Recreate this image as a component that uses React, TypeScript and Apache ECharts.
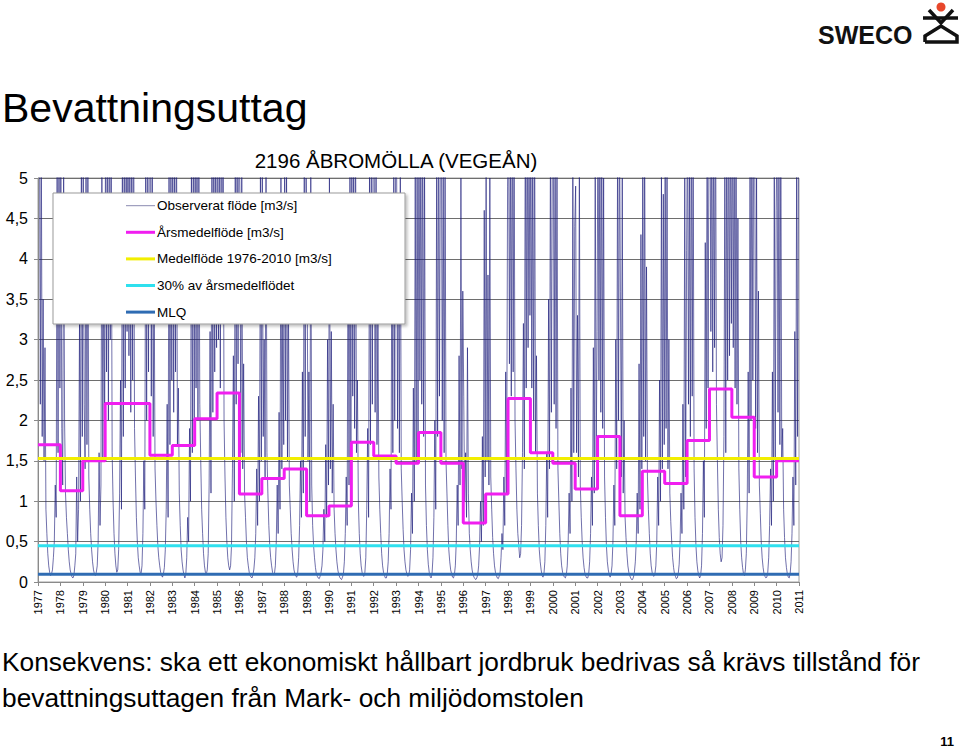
import React, { useEffect, useRef } from "react";
import * as echarts from "echarts";

const FONT = "'Liberation Sans', Arial, sans-serif";

const startYear = 1977;
const endYear = 2011;
const yTicks = [0, 0.5, 1, 1.5, 2, 2.5, 3, 3.5, 4, 4.5, 5];

// Årsmedelflöde [m3/s], 1977..2010
const annualMean = [
  1.7, 1.13, 1.5, 2.21, 2.21, 1.57, 1.69, 2.02, 2.34, 1.09, 1.28, 1.4, 0.82, 0.94,
  1.73, 1.56, 1.47, 1.85, 1.47, 0.73, 1.09, 2.27, 1.6, 1.47, 1.15, 1.8, 0.82, 1.37,
  1.22, 1.75, 2.39, 2.04, 1.3, 1.5,
];
const meanFlow = 1.53; // Medelflöde 1976-2010
const pct30 = 0.45; // 30% av årsmedelflödet
const mlq = 0.095; // MLQ

// Observerat flöde, half-monthly readings, one row per year
const obs1977to1985 = [
  [7.5, 6.0, 2.2, 5.8, 1.8, 3.5, 1.5, 2.9, 0.9, 0.6, 0.35, 0.2, 0.12, 0.08, 0.1, 0.15, 0.3, 0.5, 1.2, 0.8, 5.6, 1.6, 6.2, 2.4],
  [5.4, 1.9, 1.2, 5.2, 2.0, 1.1, 0.8, 0.6, 0.4, 0.25, 0.15, 0.1, 0.06, 0.05, 0.08, 0.2, 0.35, 1.3, 0.5, 0.9, 3.2, 1.0, 5.5, 1.8],
  [5.6, 2.2, 1.4, 5.3, 1.7, 5.1, 1.3, 0.9, 0.6, 0.4, 0.25, 0.15, 0.1, 0.08, 0.12, 0.2, 0.5, 1.6, 0.7, 1.2, 5.4, 1.5, 4.0, 1.9],
  [6.0, 2.6, 5.8, 2.0, 6.3, 3.0, 5.5, 1.6, 1.0, 0.6, 0.35, 0.2, 0.12, 0.15, 0.4, 1.1, 2.5, 0.9, 5.7, 1.8, 6.1, 2.4, 5.9, 3.1],
  [6.2, 2.8, 5.6, 2.1, 5.9, 2.5, 6.4, 1.9, 1.3, 0.8, 0.5, 0.3, 0.2, 0.12, 0.1, 0.2, 0.6, 1.5, 0.9, 5.4, 2.0, 6.0, 2.6, 5.8],
  [5.8, 2.3, 6.1, 1.8, 3.9, 1.4, 1.0, 0.7, 0.45, 0.3, 0.2, 0.12, 0.08, 0.06, 0.1, 0.18, 0.4, 0.9, 2.2, 0.8, 5.5, 1.7, 5.2, 2.5],
  [6.0, 2.1, 5.5, 2.6, 5.9, 1.7, 2.4, 1.1, 0.7, 0.4, 0.25, 0.15, 0.09, 0.05, 0.1, 0.3, 0.8, 0.5, 1.9, 1.0, 5.3, 1.6, 6.0, 2.0],
  [5.9, 2.4, 6.2, 2.0, 5.4, 2.2, 1.5, 0.9, 0.6, 0.35, 0.2, 0.12, 0.1, 0.15, 0.35, 1.2, 3.1, 1.1, 5.8, 2.1, 6.3, 2.6, 5.6, 2.9],
  [6.1, 3.0, 5.7, 2.4, 6.5, 3.2, 5.9, 2.0, 1.3, 0.8, 0.5, 0.3, 0.2, 0.15, 0.2, 0.45, 1.4, 2.8, 1.0, 5.6, 2.2, 6.0, 2.7, 5.8],
];
const obs1986to1994 = [
  [4.8, 1.6, 5.3, 1.4, 2.7, 1.1, 0.8, 0.5, 0.3, 0.2, 0.12, 0.08, 0.06, 0.05, 0.09, 0.16, 0.3, 0.6, 1.4, 0.7, 2.3, 1.0, 5.1, 1.5],
  [5.2, 1.8, 3.0, 1.3, 5.5, 1.6, 1.1, 0.7, 0.45, 0.3, 0.2, 0.12, 0.09, 0.1, 0.2, 0.5, 1.2, 0.6, 2.1, 0.9, 5.0, 1.4, 3.4, 1.7],
  [5.6, 2.0, 5.2, 1.5, 3.6, 1.2, 0.9, 0.6, 0.4, 0.25, 0.15, 0.1, 0.07, 0.06, 0.12, 0.3, 0.7, 1.5, 0.8, 2.6, 1.1, 5.4, 1.8, 5.0],
  [4.2, 1.5, 2.6, 1.0, 5.1, 1.2, 0.7, 0.45, 0.3, 0.18, 0.1, 0.07, 0.05, 0.04, 0.07, 0.12, 0.2, 0.4, 0.9, 0.5, 1.7, 0.8, 3.0, 1.2],
  [5.0, 1.4, 3.1, 1.1, 2.2, 0.9, 0.6, 0.4, 0.25, 0.15, 0.09, 0.06, 0.04, 0.03, 0.06, 0.1, 0.25, 0.6, 1.3, 0.7, 4.8, 1.2, 5.2, 1.5],
  [6.0, 2.3, 5.4, 1.9, 5.8, 1.6, 2.5, 1.0, 0.6, 0.35, 0.2, 0.12, 0.08, 0.07, 0.12, 0.3, 0.9, 1.9, 0.8, 5.2, 1.7, 6.1, 2.2, 5.7],
  [5.5, 2.1, 5.9, 1.7, 3.3, 1.3, 0.9, 0.6, 0.35, 0.2, 0.12, 0.08, 0.05, 0.05, 0.1, 0.25, 0.6, 1.4, 0.9, 4.6, 1.6, 5.8, 2.0, 5.3],
  [5.4, 1.9, 4.7, 1.6, 5.6, 1.4, 1.0, 0.65, 0.4, 0.25, 0.15, 0.1, 0.07, 0.08, 0.15, 0.4, 1.1, 0.6, 2.4, 1.0, 5.1, 1.5, 5.5, 1.8],
  [6.3, 2.5, 5.7, 2.2, 6.0, 1.8, 5.2, 1.2, 0.7, 0.4, 0.22, 0.12, 0.07, 0.05, 0.1, 0.3, 0.8, 2.0, 0.9, 5.3, 1.8, 5.9, 2.3, 5.6],
];
const obs1995to2002 = [
  [5.7, 2.0, 5.1, 1.6, 5.4, 1.5, 1.1, 0.7, 0.4, 0.25, 0.15, 0.1, 0.06, 0.05, 0.09, 0.2, 0.5, 1.2, 0.7, 2.8, 1.2, 5.0, 1.4, 3.6],
  [2.3, 1.0, 1.6, 0.8, 2.9, 1.1, 0.6, 0.4, 0.25, 0.15, 0.09, 0.06, 0.04, 0.03, 0.05, 0.09, 0.2, 0.45, 1.0, 0.5, 1.8, 0.7, 4.6, 1.3],
  [5.2, 1.5, 3.8, 1.2, 5.0, 1.3, 0.9, 0.55, 0.35, 0.2, 0.12, 0.08, 0.05, 0.04, 0.07, 0.12, 0.3, 0.6, 0.4, 1.3, 0.7, 2.6, 1.1, 4.9],
  [6.1, 2.7, 5.6, 2.3, 6.4, 2.6, 5.8, 2.0, 1.4, 0.9, 0.6, 0.45, 0.3, 0.35, 0.7, 1.6, 3.2, 1.4, 5.9, 2.4, 6.2, 2.9, 5.7, 3.3],
  [6.0, 2.4, 5.5, 2.0, 5.9, 1.6, 2.8, 1.1, 0.7, 0.4, 0.25, 0.15, 0.08, 0.06, 0.1, 0.25, 0.7, 1.6, 0.8, 3.5, 1.4, 5.6, 2.1, 5.3],
  [5.8, 2.2, 6.0, 1.9, 5.4, 1.4, 1.0, 0.6, 0.35, 0.2, 0.12, 0.08, 0.06, 0.05, 0.09, 0.2, 0.5, 1.1, 0.6, 2.4, 1.0, 5.2, 1.6, 4.4],
  [4.9, 1.6, 3.3, 1.3, 5.2, 1.2, 0.8, 0.5, 0.3, 0.18, 0.1, 0.07, 0.05, 0.05, 0.1, 0.25, 0.6, 1.3, 0.7, 2.9, 1.1, 5.3, 1.5, 3.1],
  [6.2, 2.5, 5.8, 2.1, 6.1, 1.9, 5.0, 1.3, 0.8, 0.45, 0.25, 0.15, 0.09, 0.06, 0.1, 0.2, 0.5, 1.2, 0.7, 3.0, 1.4, 5.5, 2.0, 5.8],
];
const obs2003to2010 = [
  [3.6, 1.3, 5.0, 1.1, 2.0, 0.8, 0.55, 0.35, 0.2, 0.12, 0.08, 0.05, 0.03, 0.03, 0.06, 0.12, 0.25, 0.5, 1.1, 0.6, 2.7, 0.9, 4.3, 1.4],
  [5.4, 1.8, 5.7, 1.5, 3.9, 1.3, 0.9, 0.6, 0.35, 0.2, 0.12, 0.08, 0.07, 0.1, 0.2, 0.5, 1.3, 0.7, 2.5, 1.0, 5.1, 1.4, 4.8, 1.7],
  [5.6, 1.9, 5.1, 1.4, 3.0, 1.1, 0.75, 0.5, 0.3, 0.18, 0.1, 0.07, 0.04, 0.05, 0.1, 0.22, 0.5, 1.1, 0.6, 2.2, 0.9, 5.0, 1.3, 4.1],
  [5.9, 2.2, 5.3, 1.8, 6.2, 2.3, 5.6, 1.4, 0.8, 0.45, 0.25, 0.14, 0.08, 0.05, 0.08, 0.2, 0.6, 1.5, 0.8, 4.2, 1.9, 6.0, 2.4, 5.7],
  [6.5, 3.1, 6.1, 2.6, 5.8, 2.9, 6.3, 2.2, 1.5, 0.9, 0.55, 0.35, 0.25, 0.3, 0.7, 1.8, 5.2, 1.6, 5.9, 2.5, 6.4, 2.8, 6.0, 3.2],
  [6.3, 2.9, 5.9, 2.4, 6.1, 2.2, 4.5, 1.4, 0.9, 0.5, 0.3, 0.18, 0.1, 0.08, 0.15, 0.35, 1.0, 2.6, 1.1, 5.5, 2.0, 6.2, 2.5, 5.8],
  [5.5, 1.9, 5.0, 1.6, 3.6, 1.2, 0.85, 0.5, 0.3, 0.18, 0.1, 0.07, 0.05, 0.06, 0.12, 0.3, 0.7, 1.4, 0.7, 2.6, 1.0, 5.2, 1.5, 4.6],
  [5.7, 2.1, 5.4, 1.7, 5.9, 1.5, 1.9, 0.9, 0.55, 0.3, 0.18, 0.1, 0.06, 0.05, 0.1, 0.25, 0.6, 1.3, 0.7, 3.1, 1.2, 5.3, 1.8, 5.6],
];

const legendNames = [
  "Observerat flöde [m3/s]",
  "Årsmedelflöde [m3/s]",
  "Medelflöde 1976-2010 [m3/s]",
  "30% av årsmedelflödet",
  "MLQ",
];
const colors = ["#1c1c7a", "#f01ef0", "#f2ee00", "#2fe0ee", "#2f6cb3"];

export default function App() {
  const ref = useRef<HTMLDivElement>(null);

  useEffect(() => {
    if (!ref.current) return;
    const chart = echarts.init(ref.current, undefined, { renderer: "svg" });

    const allRows = [...obs1977to1985, ...obs1986to1994, ...obs1995to2002, ...obs2003to2010];
    const observed: [number, number][] = [];
    allRows.forEach((row, k) => {
      row.forEach((v, i) => observed.push([startYear + k + (i + 0.5) / row.length, v]));
    });
    const steps: [number, number][] = annualMean.map((v, i) => [startYear + i, v]);
    steps.push([endYear, annualMean[annualMean.length - 1]]);
    const flat = (v: number): [number, number][] => [
      [startYear, v],
      [endYear, v],
    ];

    const legendX = 126;
    const legendRows = [205.7, 232.3, 258.9, 285.5, 312.1];
    const legendGraphics: any[] = [
      {
        type: "rect",
        shape: { x: 53, y: 193, width: 352, height: 131 },
        style: {
          fill: "#ffffff",
          stroke: "#9a9a9a",
          lineWidth: 1,
          shadowBlur: 3,
          shadowOffsetX: 2,
          shadowOffsetY: 2,
          shadowColor: "rgba(0,0,0,0.25)",
        },
        z: 100,
      },
    ];
    legendNames.forEach((name, i) => {
      legendGraphics.push({
        type: "line",
        shape: { x1: legendX, y1: legendRows[i], x2: legendX + 29, y2: legendRows[i] },
        style: {
          stroke: i === 0 ? "#8a8ab0" : colors[i],
          lineWidth: i === 0 ? 1 : 3,
        },
        z: 101,
      });
      legendGraphics.push({
        type: "text",
        x: legendX + 31,
        y: legendRows[i],
        style: {
          text: name,
          fontSize: 13.5,
          fontFamily: FONT,
          fill: "#000",
          align: "left",
          verticalAlign: "middle",
          textAlign: "left",
          textVerticalAlign: "middle",
        },
        z: 101,
      });
    });

    const option: any = {
      animation: false,
      backgroundColor: "#ffffff",
      textStyle: { fontFamily: FONT },
      title: {
        text: "2196 ÅBROMÖLLA (VEGEÅN)",
        left: 391,
        top: 145,
        textAlign: "center",
        textStyle: { fontSize: 20.5, fontWeight: "normal", color: "#000", fontFamily: FONT },
      },
      grid: {
        left: 38,
        right: 161,
        top: 178,
        height: 404,
        show: true,
        borderColor: "#a0a0a0",
        borderWidth: 1,
        backgroundColor: "#ffffff",
      },
      xAxis: {
        type: "value",
        min: startYear,
        max: endYear,
        interval: 1,
        axisLine: { show: true, lineStyle: { color: "#8a8a8a", width: 1 } },
        axisTick: { show: true, length: 4, lineStyle: { color: "#8a8a8a" } },
        splitLine: { show: false },
        axisLabel: {
          rotate: 90,
          margin: 8,
          fontSize: 11,
          color: "#000",
          fontFamily: FONT,
          formatter: (v: number) => String(v),
        },
      },
      yAxis: {
        type: "value",
        min: 0,
        max: 5,
        interval: 0.5,
        axisLine: { show: true, lineStyle: { color: "#8a8a8a", width: 1 } },
        axisTick: { show: true, length: 4, lineStyle: { color: "#8a8a8a" } },
        splitLine: { show: true, lineStyle: { color: "#6e6e6e", width: 1 } },
        axisLabel: {
          margin: 10,
          fontSize: 16,
          color: "#000",
          fontFamily: FONT,
          customValues: yTicks,
          formatter: (v: number) => String(v).replace(".", ","),
        },
      },
      series: [
        {
          name: legendNames[0],
          type: "line",
          data: observed,
          symbol: "none",
          lineStyle: { color: colors[0], width: 0.9, opacity: 0.7 },
          z: 2,
        },
        {
          name: legendNames[1],
          type: "line",
          data: steps,
          step: "end",
          symbol: "none",
          lineStyle: { color: colors[1], width: 3 },
          z: 3,
        },
        {
          name: legendNames[2],
          type: "line",
          data: flat(meanFlow),
          symbol: "none",
          lineStyle: { color: colors[2], width: 3 },
          z: 4,
        },
        {
          name: legendNames[3],
          type: "line",
          data: flat(pct30),
          symbol: "none",
          lineStyle: { color: colors[3], width: 3 },
          z: 4,
        },
        {
          name: legendNames[4],
          type: "line",
          data: flat(mlq),
          symbol: "none",
          lineStyle: { color: colors[4], width: 3 },
          z: 4,
        },
      ],
      graphic: [
        {
          type: "text",
          x: 2,
          y: 108,
          style: {
            text: "Bevattningsuttag",
            fontSize: 41,
            fontFamily: FONT,
            fill: "#000",
            align: "left",
            verticalAlign: "middle",
            textAlign: "left",
            textVerticalAlign: "middle",
          },
        },
        {
          type: "text",
          x: 2,
          y: 662,
          style: {
            text: "Konsekvens: ska ett ekonomiskt hållbart jordbruk bedrivas så krävs tillstånd för",
            fontSize: 26.3,
            fontFamily: FONT,
            fill: "#000",
            align: "left",
            verticalAlign: "middle",
            textAlign: "left",
            textVerticalAlign: "middle",
          },
        },
        {
          type: "text",
          x: 2,
          y: 698,
          style: {
            text: "bevattningsuttagen från Mark- och miljödomstolen",
            fontSize: 26.3,
            fontFamily: FONT,
            fill: "#000",
            align: "left",
            verticalAlign: "middle",
            textAlign: "left",
            textVerticalAlign: "middle",
          },
        },
        {
          type: "text",
          x: 954,
          y: 741,
          style: {
            text: "11",
            fontSize: 13,
            fontWeight: "bold",
            fontFamily: FONT,
            fill: "#000",
            align: "right",
            verticalAlign: "middle",
            textAlign: "right",
            textVerticalAlign: "middle",
          },
        },
        {
          type: "text",
          x: 818,
          y: 35,
          style: {
            text: "SWECO",
            fontSize: 25,
            fontWeight: "bold",
            fontFamily: FONT,
            fill: "#111",
            align: "left",
            verticalAlign: "middle",
            textAlign: "left",
            textVerticalAlign: "middle",
          },
        },
        {
          type: "circle",
          shape: { cx: 941, cy: 7, r: 4.5 },
          style: { fill: "#e8472b" },
        },
        {
          type: "polyline",
          shape: { points: [[929, 10], [941, 23], [953, 10]] },
          style: { stroke: "#111", lineWidth: 3.5, fill: null },
        },
        {
          type: "line",
          shape: { x1: 923, y1: 18, x2: 958, y2: 18 },
          style: { stroke: "#111", lineWidth: 3.5 },
        },
        {
          type: "polyline",
          shape: { points: [[925, 42], [925, 36], [941, 26], [957, 36], [957, 42], [925, 42]] },
          style: { stroke: "#111", lineWidth: 3.5, fill: null },
        },
        ...legendGraphics,
      ],
    };

    chart.setOption(option);
    return () => chart.dispose();
  }, []);

  return (
    <div
      ref={ref}
      style={{ position: "fixed", left: 0, top: 0, width: 960, height: 749, background: "#fff" }}
    />
  );
}
